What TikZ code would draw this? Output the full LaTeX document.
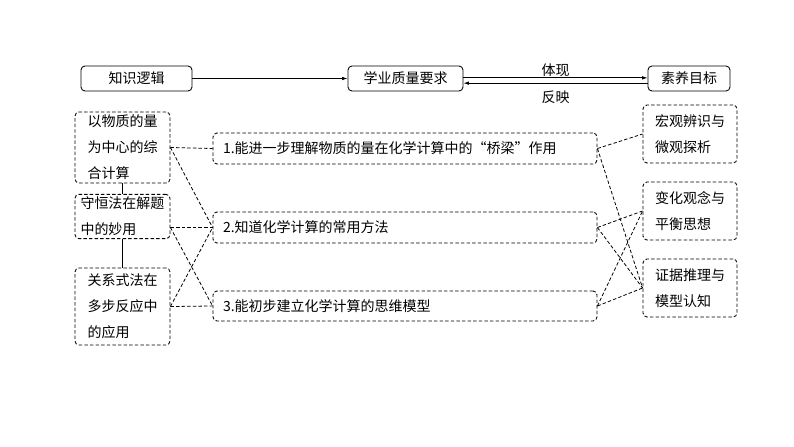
\documentclass[tikz,border=0pt]{standalone}
\usepackage{fontspec}
\usepackage{tikz}
\usetikzlibrary{arrows.meta, positioning}
\newfontfamily\cjk{Noto Sans CJK SC}
\newcommand{\px}{0.75pt}

\begin{document}
\begin{tikzpicture}[
    x=0.75pt, y=-0.75pt,
    font=\cjk\fontsize{10.5}{19.5}\selectfont,
    box/.style={rectangle, rounded corners=3pt, draw, line width=0.65pt,
                align=center, inner sep=2pt},
    dbox/.style={box, dash pattern=on 2.6pt off 1.6pt, align=left},
    link/.style={dash pattern=on 2.6pt off 1.6pt, line width=0.6pt},
    arrow/.style={-{Latex[length=4pt,width=2.6pt]}, line width=0.6pt}
  ]
    \useasboundingbox (0,0) rectangle (794,447);

    % top row
    \node[box, minimum width=111*\px, minimum height=25*\px] (logic)   at (136.5,78.5) {知识逻辑};
    \node[box, minimum width=115*\px, minimum height=25*\px] (quality) at (405.5,78.5) {学业质量要求};
    \node[box, minimum width=82*\px,  minimum height=25*\px] (goal)    at (689,78.5)   {素养目标};

    \draw[arrow] (logic) -- (quality);
    \draw[arrow] ([yshift=0.5pt]quality.east) -- node[above=-3pt]{体现} ([yshift=0.5pt]goal.west);
    \draw[arrow] ([yshift=-3.5pt]goal.west) -- node[below=2pt]{反映} ([yshift=-3.5pt]quality.east);

    % left column
    \node[dbox, minimum width=95*\px, minimum height=71*\px] (topic1) at (122.5,147.5) {以物质的量\\为中心的综\\合计算};
    \node[dbox, minimum width=95*\px, minimum height=41*\px] (topic2) at (122.5,216.5) {守恒法在解题\\中的妙用};
    \node[dbox, minimum width=95*\px, minimum height=77*\px] (topic3) at (122.5,306.5) {关系式法在\\多步反应中\\的应用};

    \draw[line width=0.65pt] (topic1) -- (topic2);
    \draw[line width=0.65pt] (topic2) -- (topic3);

    % middle column
    \node[dbox, text width=364*\px, inner xsep=10*\px, minimum height=31*\px] (req1) at (405,148.5) {1.能进一步理解物质的量在化学计算中的“桥梁”作用};
    \node[dbox, text width=364*\px, inner xsep=10*\px, minimum height=31*\px] (req2) at (405,227.5) {2.知道化学计算的常用方法};
    \node[dbox, text width=364*\px, inner xsep=10*\px, minimum height=30*\px] (req3) at (405,306)   {3.能初步建立化学计算的思维模型};

    % right column
    \node[dbox, minimum width=94*\px, minimum height=58*\px] (lit1) at (690,134) {宏观辨识与\\微观探析};
    \node[dbox, minimum width=94*\px, minimum height=58*\px] (lit2) at (690,211) {变化观念与\\平衡思想};
    \node[dbox, minimum width=94*\px, minimum height=58*\px] (lit3) at (690,288) {证据推理与\\模型认知};

    \coordinate (t2) at (topic2.east |- req2.west);

    \draw[link] (topic1.east) -- (req1.west);
    \draw[link] (topic1.east) -- (req2.west);
    \draw[link] (t2) -- (req2.west);
    \draw[link] (t2) -- (req3.west);
    \draw[link] (topic3.east) -- (req3.west);
    \draw[link] (topic3.east) -- (req2.west);

    \draw[link] (req1.east) -- (lit1.west);
    \draw[link] (req1.east) -- (lit3.west);
    \draw[link] (req2.east) -- (lit2.west);
    \draw[link] (req2.east) -- (lit3.west);
    \draw[link] (req3.east) -- (lit3.west);
    \draw[link] (req3.east) -- (lit2.west);
  \end{tikzpicture}
\end{document}
